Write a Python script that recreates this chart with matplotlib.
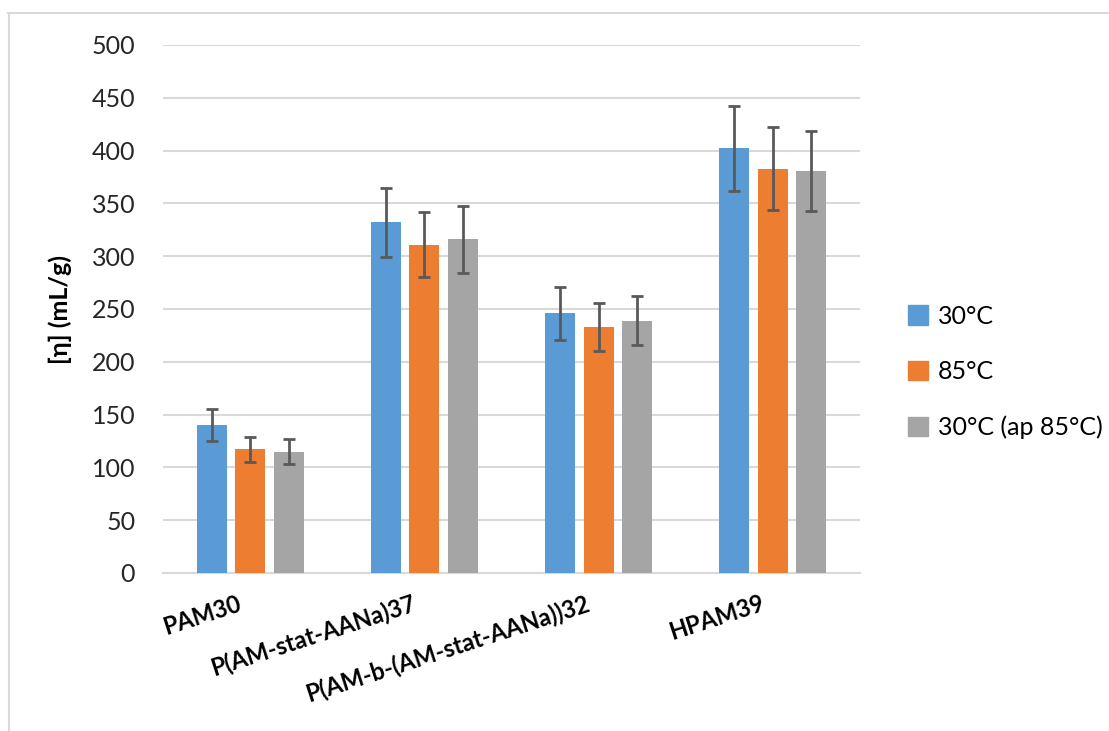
import numpy as np
import matplotlib
matplotlib.use('Agg')
import matplotlib.pyplot as plt
import matplotlib.transforms as mtransforms
from matplotlib.lines import Line2D

# data
samples = ['PAM30', 'P(AM-stat-AANa)37', 'P(AM-b-(AM-stat-AANa))32', 'HPAM39']
series_names = ['30°C', '85°C', '30°C (ap 85°C)']
visc_30 = [140, 332, 246, 402]
visc_85 = [117, 311, 233, 383]
visc_30_after = [115, 316, 239, 381]
err_30 = [15, 33, 25, 40]
err_85 = [12, 31, 23, 39]
err_30_after = [12, 32, 23, 38]

colors = ['#5B9BD5', '#ED7D31', '#A5A5A5']

plt.rcParams['font.family'] = ['Lato', 'DejaVu Sans']

fig = plt.figure(figsize=(11.09, 7.31), dpi=100)
ax = fig.add_axes([163 / 1109, 1 - 573 / 731, (860 - 163) / 1109, (573 - 45) / 731])

x = np.arange(len(samples))
step = 0.221
width = 0.172
values = [visc_30, visc_85, visc_30_after]
errors = [err_30, err_85, err_30_after]
for i in range(3):
    ax.bar(x + (i - 1) * step, values[i], width=width, color=colors[i], label=series_names[i],
           yerr=errors[i], zorder=3,
           error_kw=dict(ecolor='#595959', elinewidth=2, capsize=4, capthick=2, zorder=4))

ax.set_xlim(-0.5, 3.5)
ax.set_ylim(0, 500)
ax.set_yticks(range(0, 501, 50))
ax.grid(axis='y', color='#d9d9d9', linewidth=1.5, zorder=0)
for s in ['top', 'right', 'left']:
    ax.spines[s].set_visible(False)
ax.spines['bottom'].set_color('#d9d9d9')
ax.spines['bottom'].set_linewidth(1.5)
ax.tick_params(axis='both', length=0, labelsize=18, colors='#262626')
ax.tick_params(axis='y', pad=20)

ax.set_xticks(x)
ax.set_xticklabels(samples, rotation=18, ha='right', va='top', rotation_mode='anchor',
                   fontweight='bold', fontsize=17, color='black')
ax.tick_params(axis='x', pad=12)
# move the slanted labels a little to the left, as in the original
shift = mtransforms.ScaledTranslation(-0.13, -0.02, fig.dpi_scale_trans)
for lbl in ax.get_xticklabels():
    lbl.set_transform(lbl.get_transform() + shift)
ax.set_ylabel('[η] (mL/g)', fontsize=18, fontweight='bold', labelpad=14)

handles = [plt.Rectangle((0, 0), 1, 1, color=c) for c in colors]
fig.legend(handles, series_names, loc='center left', bbox_to_anchor=(885 / 1109, 1 - 372 / 731),
           frameon=False, fontsize=18, handlelength=0.8, handleheight=0.8,
           labelspacing=1.3, handletextpad=0.4)

# light border of the chart area
fig.add_artist(Line2D([8 / 1109, 1], [1 - 13 / 731, 1 - 13 / 731], color='#d9d9d9', lw=1.5))
fig.add_artist(Line2D([9 / 1109, 9 / 1109], [0, 1 - 13 / 731], color='#d9d9d9', lw=1.5))

fig.savefig('out.png', dpi=100)
